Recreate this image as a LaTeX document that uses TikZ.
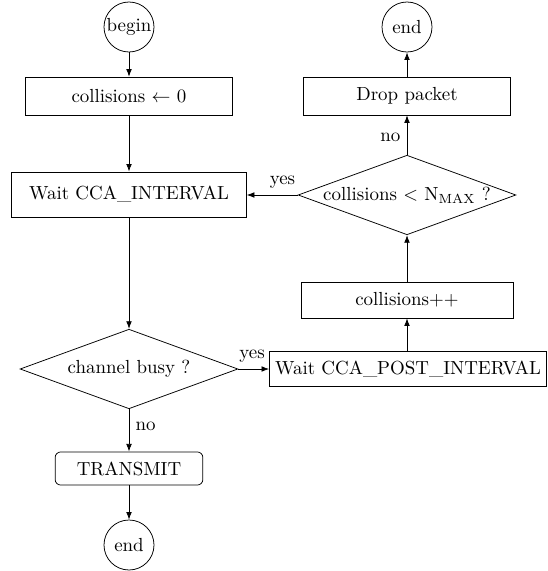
\documentclass[tikz,border=0pt]{standalone}
\usetikzlibrary{shapes.geometric,arrows.meta}
\begin{document}
\begin{tikzpicture}[x=0.528pt,y=-0.528pt,
  box/.style={draw,rectangle,minimum width=109pt,minimum height=20pt,inner sep=3pt},
  term/.style={draw,circle,minimum size=26.4pt,inner sep=0pt},
  dec/.style={draw,diamond,aspect=2.7,minimum width=115pt,minimum height=42pt,inner sep=0pt},
  rbox/.style={draw,rectangle,rounded corners=3pt,minimum width=78pt,minimum height=17.5pt},
  arr/.style={-{Latex[length=4pt,width=3pt]}}]
\useasboundingbox (0,0) rectangle (548,571);
\node[term] (begin) at (129,27) {begin};
\node[box] (init) at (129,96) {collisions $\leftarrow$ 0};
\node[box,minimum width=124pt,minimum height=23.8pt] (wait) at (129,194.5) {Wait CCA\_INTERVAL};
\node[dec] (busy) at (129,369) {channel busy ?};
\node[rbox] (tx) at (129,468.5) {TRANSMIT};
\node[term] (end1) at (129,545) {end};
\node[box,minimum width=144pt,minimum height=18.5pt] (post) at (408,369) {Wait CCA\_POST\_INTERVAL};
\node[box,minimum width=112pt,minimum height=19pt] (inc) at (407,300) {collisions++};
\node[dec] (cmp) at (407,195) {collisions < N$_{\mathrm{MAX}}$ ?};
\node[box] (drop) at (407,96) {Drop packet};
\node[term] (end2) at (407,27) {end};
\draw[arr] (begin) -- (init);
\draw[arr] (init) -- (wait);
\draw[arr] (wait) -- (busy);
\draw[arr] (busy) -- node[right,pos=0.4] {no} (tx);
\draw[arr] (tx) -- (end1);
\draw[arr] (busy.east) -- node[above,pos=0.45] {yes} (post.west);
\draw[arr] (inc |- post.north) -- (inc);
\draw[arr] (inc) -- (cmp);
\draw[arr] (cmp.west) -- node[above,pos=0.3] {yes} (cmp.west -| wait.east);
\draw[arr] (cmp) -- node[left,pos=0.45] {no} (drop);
\draw[arr] (drop) -- (end2);
\end{tikzpicture}
\end{document}
